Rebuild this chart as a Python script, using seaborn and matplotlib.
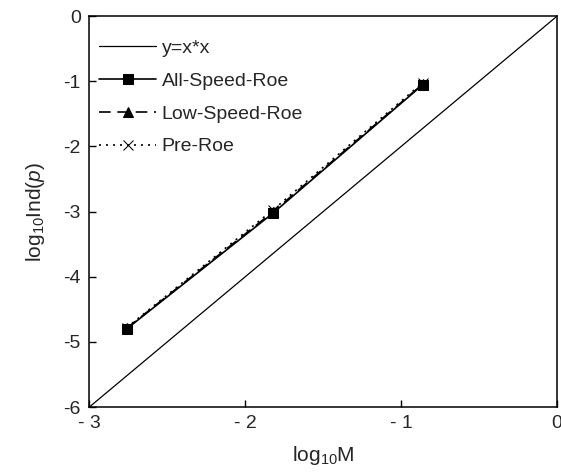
import pandas as pd
import matplotlib
matplotlib.use("Agg")
import matplotlib.pyplot as plt
import seaborn as sns

# reference line y = x*x (in log10: y = 2x)
ref_x = [-3.0, 0.0]
ref_y = [-6.0, 0.0]

# log10 M for the three test cases
log_m = [-2.76, -1.82, -0.86]

all_speed_roe = [-4.80, -3.02, -1.05]
low_speed_roe = [-4.79, -3.00, -1.04]
pre_roe = [-4.78, -2.97, -1.02]

x_ticks = [-3, -2, -1, 0]
x_tick_labels = ["- 3", "- 2", "- 1", "0"]
y_ticks = [-6, -5, -4, -3, -2, -1, 0]
y_tick_labels = ["-6", "-5", "-4", "-3", "-2", "-1", "0"]

sns.set_style("ticks")
plt.rcParams["font.family"] = ["Liberation Sans", "DejaVu Sans"]
plt.rcParams["mathtext.fontset"] = "custom"
plt.rcParams["mathtext.rm"] = "Liberation Sans"
plt.rcParams["mathtext.it"] = "Liberation Sans:italic"
plt.rcParams["xtick.direction"] = "in"
plt.rcParams["ytick.direction"] = "in"

fig = plt.figure(figsize=(5.61, 4.74), dpi=100)
ax = fig.add_axes([0.159, 0.141, 0.834, 0.825])

sns.lineplot(x=ref_x, y=ref_y, ax=ax, color="black", linewidth=0.9, label="y=x*x")
sns.lineplot(x=log_m, y=all_speed_roe, ax=ax, color="black", linewidth=1.2,
             marker="s", markersize=7, markeredgecolor="black", label="All-Speed-Roe")
sns.lineplot(x=log_m, y=low_speed_roe, ax=ax, color="black", linewidth=1.2,
             linestyle=(0, (7, 4)), marker="^", markersize=7,
             markeredgecolor="black", label="Low-Speed-Roe")
sns.lineplot(x=log_m, y=pre_roe, ax=ax, color="black", linewidth=1.2,
             linestyle=(0, (1.2, 3)), marker="x", markersize=7,
             markeredgecolor="black", label="Pre-Roe")

ax.set_xlim(-3, 0)
ax.set_ylim(-6, 0)
ax.set_xticks(x_ticks)
ax.set_xticklabels(x_tick_labels)
ax.set_yticks(y_ticks)
ax.set_yticklabels(y_tick_labels)
ax.tick_params(labelsize=14, length=5, width=1, pad=6, color="black")
for s in ax.spines.values():
    s.set_linewidth(1.1)
    s.set_color("black")

ax.set_xlabel(r"log$_{10}$M", fontsize=15, labelpad=8)
ax.set_ylabel(r"log$_{10}$Ind($\mathit{p}$)", fontsize=15, labelpad=12)

ax.legend(loc="upper left", bbox_to_anchor=(-0.028, 1.0), frameon=False,
          fontsize=14, handlelength=2.9, handletextpad=0.3,
          labelspacing=0.78, borderaxespad=0.8)

fig.savefig("out.png", dpi=100)
plt.close()
